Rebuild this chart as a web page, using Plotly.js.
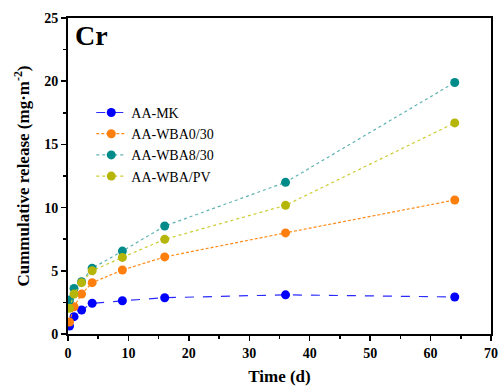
<!DOCTYPE html>
<html><head><meta charset="utf-8">
<script src="https://cdn.plot.ly/plotly-3.0.1.min.js"></script>
<style>html,body{margin:0;padding:0;background:#fff;}#chart{width:503px;height:389px;}</style>
</head><body><div id="chart"></div>
<script>
const timeDays = [0.25, 1, 2.25, 4, 9, 16, 36, 64];
const seriesNames = ["AA-MK", "AA-WBA0/30", "AA-WBA8/30", "AA-WBA/PV"];
const aaMK     = [0.63, 1.37, 1.90, 2.43, 2.63, 2.87, 3.10, 2.93];
const aaWBA030 = [0.95, 2.16, 3.16, 4.06, 5.06, 6.10, 8.00, 10.60];
const aaWBA830 = [2.69, 3.60, 4.14, 5.20, 6.56, 8.54, 12.00, 19.90];
const aaWBAPV  = [2.03, 3.16, 4.06, 5.00, 6.06, 7.49, 10.18, 16.70];
const xTicks = [0, 10, 20, 30, 40, 50, 60, 70];
const yTicks = [0, 5, 10, 15, 20, 25];

const colors = ["#0000ff", "#ff7f0e", "#008b8b", "#b5b50a"];
const lineColors = ["#2a2aff", "#ff8c1a", "#5fb3b3", "#cccc33"];
const dashes = ["dash", "3px,2px", "dot", "dot"];
const allY = [aaMK, aaWBA030, aaWBA830, aaWBAPV];

const traces = allY.map((y, i) => ({
  x: timeDays, y: y, name: seriesNames[i], type: "scatter", mode: "lines+markers",
  line: {color: lineColors[i], width: 1.2, dash: dashes[i]},
  marker: {color: colors[i], size: 9}
}));

const serif = "Liberation Serif, Times New Roman, serif";
const layout = {
  width: 503, height: 389,
  margin: {l: 68, r: 12, t: 18, b: 55},
  paper_bgcolor: "#ffffff", plot_bgcolor: "#ffffff",
  font: {family: serif, color: "#000"},
  showlegend: true,
  legend: {x: 0.055, y: 0.60, xanchor: "left", yanchor: "middle",
    bgcolor: "rgba(0,0,0,0)", borderwidth: 0, font: {family: serif, size: 14, color: "#000"}},
  xaxis: {
    range: [0, 70], tickvals: xTicks, ticktext: xTicks.map(String),
    showgrid: false, zeroline: false, showline: true, linewidth: 2, linecolor: "#000", mirror: true,
    ticks: "outside", ticklen: 5, tickwidth: 1.5, tickcolor: "#000",
    minor: {dtick: 5, ticks: "outside", ticklen: 3, tickwidth: 1.5, tickcolor: "#000", showgrid: false},
    tickfont: {family: serif, size: 14, color: "#000", weight: "bold"},
    title: {text: "<b>Time (d)</b>", font: {family: serif, size: 17, color: "#000"}, standoff: 10}
  },
  yaxis: {
    range: [0, 25], tickvals: yTicks, ticktext: yTicks.map(String),
    showgrid: false, zeroline: false, showline: true, linewidth: 2, linecolor: "#000", mirror: true,
    ticks: "outside", ticklen: 5, tickwidth: 1.5, tickcolor: "#000",
    minor: {dtick: 2.5, ticks: "outside", ticklen: 3, tickwidth: 1.5, tickcolor: "#000", showgrid: false},
    tickfont: {family: serif, size: 14, color: "#000", weight: "bold"},
    title: {text: "<b>Cummulative release (mg·m<sup>-2</sup>)</b>", font: {family: serif, size: 17, color: "#000"}, standoff: 10}
  },
  annotations: [{
    text: "<b>Cr</b>", xref: "paper", yref: "paper", x: 0.012, y: 1.0,
    xanchor: "left", yanchor: "top", showarrow: false,
    font: {family: serif, size: 28, color: "#000"}
  }]
};
Plotly.newPlot("chart", traces, layout, {displayModeBar: false, staticPlot: true});
</script></body></html>
